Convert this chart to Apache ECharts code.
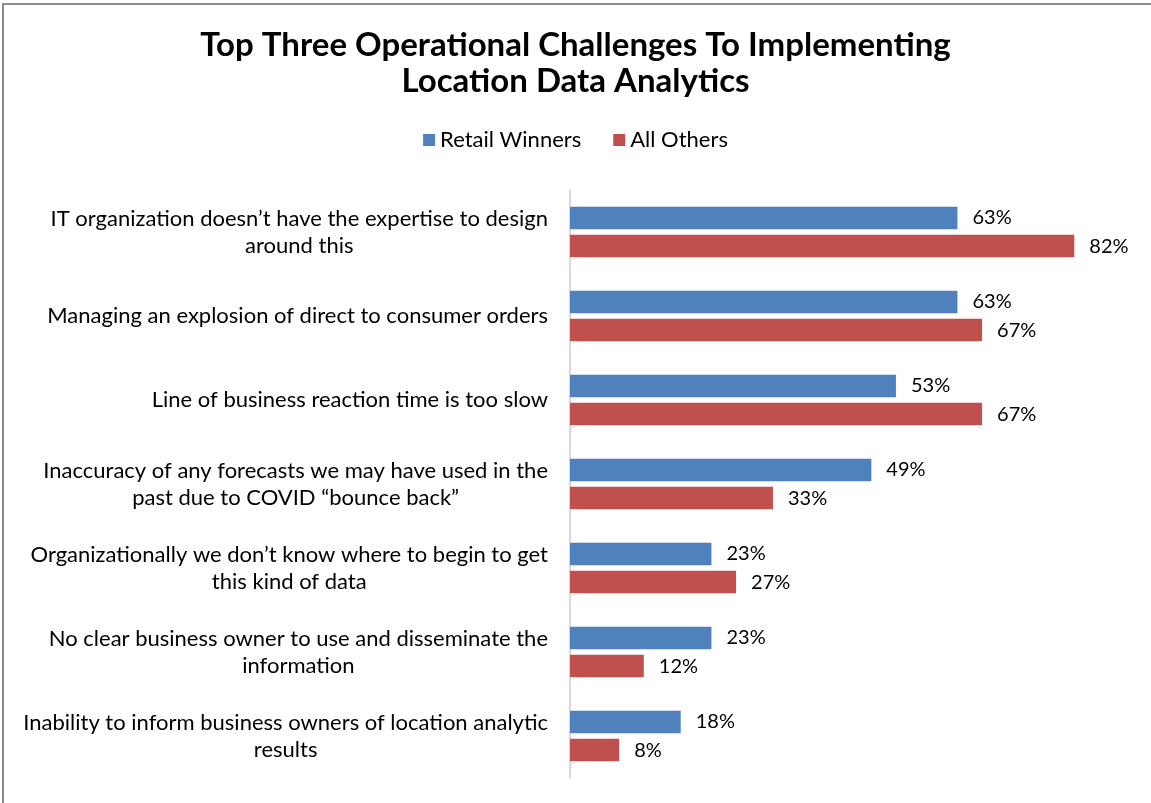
<!DOCTYPE html>
<html>
<head>
<meta charset="utf-8">
<title>Top Three Operational Challenges To Implementing Location Data Analytics</title>
<script src="https://cdn.jsdelivr.net/npm/echarts@6/dist/echarts.min.js"></script>
<style>
  html, body { margin: 0; padding: 0; background: #fff; }
  #frame {
    position: absolute; left: 2px; top: 3px; width: 1200px; height: 900px;
    border-top: 2px solid #8c8c8c; border-left: 2px solid #8c8c8c;
    box-sizing: border-box;
  }
  #chart { position: absolute; left: 0; top: 0; width: 1151px; height: 803px; }
</style>
</head>
<body>
<div id="frame"></div>
<div id="chart"></div>
<script>
// Survey challenges, top to bottom (line breaks as laid out on the axis)
const categories = [
  'IT organization doesn\u2019t have the expertise to design\naround this',
  'Managing an explosion of direct to consumer orders',
  'Line of business reaction time is too slow',
  'Inaccuracy of any forecasts we may have used in the\npast due to COVID \u201cbounce back\u201d',
  'Organizationally we don\u2019t know where to begin to get\nthis kind of data',
  'No clear business owner to use and disseminate the\ninformation',
  'Inability to inform business owners of location analytic\nresults'
];

const seriesNames = ['Retail Winners', 'All Others'];
const retailWinners = [63, 63, 53, 49, 23, 23, 18];
const allOthers = [82, 67, 67, 33, 27, 12, 8];

const FONT = 'Lato, "Open Sans", sans-serif';

const chart = echarts.init(document.getElementById('chart'));

function barSeries(name, data, color) {
  return {
    name: name,
    type: 'bar',
    data: data,
    barWidth: 22.5,
    barGap: '25%',
    itemStyle: { color: color },
    label: {
      show: true,
      position: 'right',
      distance: 15,
      formatter: '{c}%',
      color: '#000',
      fontSize: 20,
      fontFamily: FONT
    }
  };
}

chart.setOption({
  animation: false,
  title: {
    text: 'Top Three Operational Challenges To Implementing\nLocation Data Analytics',
    left: 'center',
    top: 22,
    textStyle: {
      fontFamily: FONT,
      fontSize: 33,
      fontWeight: 'bold',
      color: '#000',
      lineHeight: 36
    }
  },
  legend: {
    data: seriesNames,
    top: 124,
    left: 'center',
    icon: 'rect',
    itemWidth: 12,
    itemHeight: 12,
    itemGap: 32,
    textStyle: { fontFamily: FONT, fontSize: 22, color: '#000' }
  },
  grid: {
    left: 570,
    right: 27.5,
    top: 190,
    height: 588,
    containLabel: false
  },
  xAxis: {
    type: 'value',
    min: 0,
    max: 90,
    show: false
  },
  yAxis: {
    type: 'category',
    data: categories,
    inverse: true,
    axisLine: { show: true, lineStyle: { color: '#d9d9d9', width: 2 } },
    axisTick: { show: false },
    splitLine: { show: false },
    axisLabel: {
      margin: 22,
      align: 'right',
      fontFamily: FONT,
      fontSize: 22,
      color: '#000',
      formatter: function (v) {
        return v.split('\n').map(function (l) { return '{c|' + l + '}'; }).join('\n');
      },
      rich: {
        c: { align: 'center', fontFamily: FONT, fontSize: 22, lineHeight: 27, color: '#000' }
      }
    }
  },
  series: [
    barSeries(seriesNames[0], retailWinners, '#4f81bd'),
    barSeries(seriesNames[1], allOthers, '#c0504d')
  ]
});
</script>
</body>
</html>
